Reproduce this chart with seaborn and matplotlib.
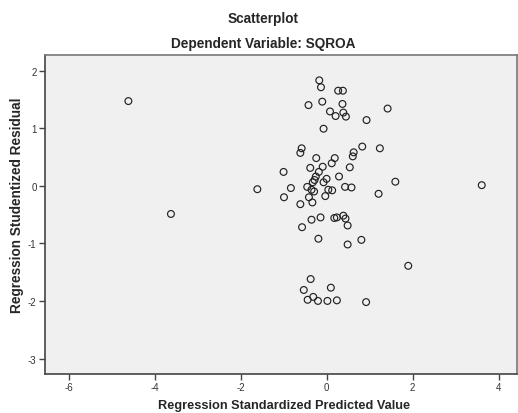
import matplotlib
matplotlib.use("Agg")
import matplotlib.pyplot as plt
import seaborn as sns
import pandas as pd

predicted = [-4.61, -3.62, -1.61, -1.00, -0.99, -0.17, -0.13, 0.27, 0.38, -0.42,
             -0.10, 0.37, 0.08, 0.21, 0.39, 0.45, 0.93, 1.42, -0.07, -0.58,
             -0.61, 0.83, 1.24, 0.63, 0.61, -0.24, 0.19, 0.12, 0.54, -0.38,
             -0.09, -0.18, -0.25, -0.28, 0.00, 0.29, -0.07, -0.32, -0.45, -0.35,
             -0.29, 0.04, 0.13, 0.43, 0.58, -0.83, 1.60, 3.61, -0.41, -0.33,
             -0.03, 1.21, -0.61, -0.35, -0.14, 0.18, 0.24, 0.39, 0.44, -0.57,
             0.49, -0.19, 0.49, 0.81, 1.90, -0.37, -0.53, 0.10, -0.44, -0.31,
             -0.20, 0.02, 0.24, 0.92]
residual = [1.47, -0.49, -0.06, 0.24, -0.20, 1.83, 1.71, 1.65, 1.65, 1.40,
            1.46, 1.42, 1.29, 1.21, 1.27, 1.20, 1.14, 1.34, 0.99, 0.65,
            0.57, 0.68, 0.65, 0.58, 0.51, 0.48, 0.48, 0.39, 0.32, 0.31,
            0.33, 0.24, 0.16, 0.10, 0.12, 0.16, 0.06, 0.06, -0.02, -0.07,
            -0.10, -0.07, -0.08, -0.02, -0.03, -0.04, 0.07, 0.01, -0.20, -0.29,
            -0.18, -0.14, -0.32, -0.59, -0.55, -0.56, -0.55, -0.52, -0.57, -0.72,
            -0.69, -0.92, -1.02, -0.94, -1.39, -1.62, -1.81, -1.77, -1.98, -1.93,
            -2.00, -2.00, -1.99, -2.02]
x_ticks = [-6, -4, -2, 0, 2, 4]
y_ticks = [-3, -2, -1, 0, 1, 2]

df = pd.DataFrame({"pred": predicted, "resid": residual})

sns.set_style("white")
plt.rcParams['font.family'] = ['Liberation Sans', 'DejaVu Sans']

fig = plt.figure(figsize=(5.18, 4.14), dpi=100)
ax = fig.add_axes([45/518, 1 - 374.5/414, (517 - 45)/518, (374.5 - 56)/414])
ax.set_facecolor("#f0f0f0")

sns.scatterplot(data=df, x="pred", y="resid", ax=ax, s=24, marker="o",
                facecolor="none", edgecolor="#222222", linewidth=0.85)

ax.set_xlim(-6.55, 4.43)
ax.set_ylim(-3.26, 2.27)
ax.set_xticks(x_ticks)
ax.set_yticks(y_ticks)
ax.set_xticklabels([str(t) for t in x_ticks])
ax.set_yticklabels([str(t) for t in y_ticks])
ax.tick_params(axis="both", direction="out", length=4, width=1, color="#444444",
               labelsize=7, labelcolor="#333333", pad=2)
ax.tick_params(left=True, bottom=True)

for side in ["left", "bottom"]:
    ax.spines[side].set_color("#444444")
    ax.spines[side].set_linewidth(1.2)
for side in ["top", "right"]:
    ax.spines[side].set_color("#777777")
    ax.spines[side].set_linewidth(1.2)

ax.set_xlabel("Regression Standardized Predicted Value", fontsize=9.2, fontweight="bold")
ax.xaxis.set_label_coords((284 - 45) / 472, -(406.5 - 374.5) / 318.5)
ax.xaxis.label.set_va("center")
ax.set_ylabel("Regression Studentized Residual", fontsize=9.8, fontweight="bold")
ax.yaxis.set_label_coords((17 - 45) / 472, (374.5 - 205) / 318.5)
ax.yaxis.label.set_va("center")

fig.text(263/518, 1 - 19/414, "Scatterplot", ha="center", va="center", fontsize=9.8, fontweight="bold")
fig.text(263/518, 1 - 44/414, "Dependent Variable: SQROA", ha="center", va="center", fontsize=9.8, fontweight="bold")

fig.savefig("out.png", dpi=100, facecolor="white")
